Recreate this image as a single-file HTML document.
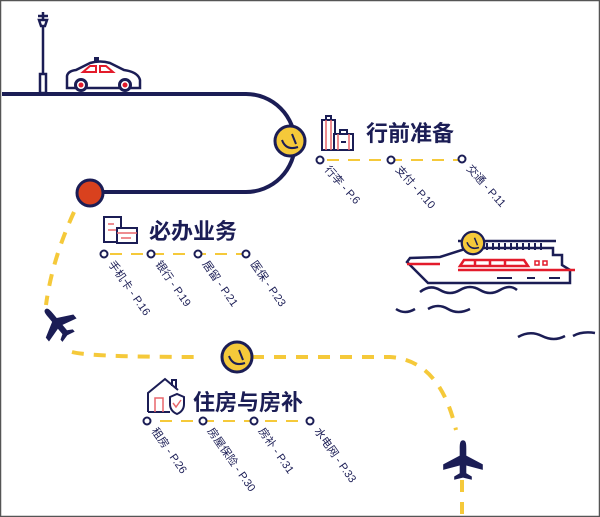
<!DOCTYPE html>
<html><head><meta charset="utf-8"><style>
html,body{margin:0;padding:0;background:#fff}
svg{display:block}
.t{font-family:"Liberation Sans","Noto Sans CJK SC",sans-serif;font-weight:bold;fill:#1b1d55;font-size:22px}
.l{font-family:"Liberation Sans","Noto Sans CJK SC",sans-serif;fill:#1b1d55;font-size:11px}
</style></head><body>
<svg width="600" height="517" viewBox="0 0 600 517" xmlns="http://www.w3.org/2000/svg">
<rect x="0.5" y="0.5" width="599" height="516" fill="#fff" stroke="#555" stroke-width="1.5"/>
<defs>
<g id="sm"><circle r="15" fill="#f5c93a" stroke="#1b1d55" stroke-width="3"/><path d="M-8,-1 Q-4,10 8,6" fill="none" stroke="#1b1d55" stroke-width="2"/><path d="M2,-7 L6,3" stroke="#1b1d55" stroke-width="2"/></g>
<path id="pl" d="M0,-18 C3,-18 3,-14 3,-10 L3,-4 L18,4 L18,9 L3,5 L3,12 L8,15 L8,18 L0,16 L-8,18 L-8,15 L-3,12 L-3,5 L-18,9 L-18,4 L-3,-4 L-3,-10 C-3,-14 -3,-18 0,-18Z" fill="#1b1d55"/>
</defs>
<!-- road -->
<path d="M2 94 H246 A49 49 0 0 1 246 192 H92" fill="none" stroke="#1b1d55" stroke-width="4"/>
<!-- lamp -->
<path d="M43 12 V20 M38 16 H48 M39 20 H47 L45 26 H41Z M43 26 V74" stroke="#1b1d55" stroke-width="2.5" fill="none"/>
<rect x="40" y="74" width="6" height="19" fill="none" stroke="#1b1d55" stroke-width="2.5"/>
<!-- car -->
<path d="M67 88 V76 Q68 71 76 70 L90 63 Q100 60 110 63 L124 70 Q138 72 140 80 V88 Z" fill="#fff" stroke="#1b1d55" stroke-width="2.5"/>
<rect x="94" y="57" width="5" height="5" fill="#1b1d55"/>
<path d="M83 72 L90 66 H96 V72Z M100 66 H106 L113 72 H100Z" fill="none" stroke="#e31b2b" stroke-width="2"/>
<circle cx="81" cy="85" r="5.5" fill="#fff" stroke="#1b1d55" stroke-width="3"/><circle cx="81" cy="85" r="2.5" fill="#e31b2b"/>
<circle cx="125" cy="85" r="5.5" fill="#fff" stroke="#1b1d55" stroke-width="3"/><circle cx="125" cy="85" r="2.5" fill="#e31b2b"/>
<use href="#sm" x="290" y="141"/>
<circle cx="90" cy="193" r="13" fill="#d9411e" stroke="#1b1d55" stroke-width="3"/>
<!-- yellow dashed travel path -->
<path d="M74 212 Q52 260 46 305 M72 352 Q90 357 200 357 M252 357 H390 Q440 360 456 430 M462 480 V515" fill="none" stroke="#f5c93a" stroke-width="4" stroke-dasharray="12 10"/>
<use href="#pl" transform="translate(57,323) rotate(-40)"/>
<use href="#pl" transform="translate(463,460) scale(1.1)"/>
<use href="#sm" x="237" y="357"/>
<!-- section 1 -->
<rect x="322" y="120" width="13" height="30" fill="none" stroke="#1b1d55" stroke-width="2"/>
<path d="M326 120 V150 M331 120 V150" stroke="#e8676b" stroke-width="1.5"/>
<path d="M326 120 V116 H331 V120" fill="none" stroke="#1b1d55" stroke-width="2"/>
<rect x="334" y="134" width="19" height="16" fill="#fff" stroke="#1b1d55" stroke-width="2"/>
<path d="M338 134 V150 M349 134 V150" stroke="#e8676b" stroke-width="1.5"/>
<path d="M340 134 V130 H347 V134 M341 142 H346" fill="none" stroke="#1b1d55" stroke-width="2"/>
<text class="t" x="366" y="141">行前准备</text>
<path d="M327 160 H458" stroke="#f5c93a" stroke-width="2" stroke-dasharray="12 9"/>
<g fill="#fff" stroke="#1b1d55" stroke-width="2"><circle cx="320" cy="160" r="3.5"/><circle cx="391" cy="160" r="3.5"/><circle cx="462" cy="159" r="3.5"/></g>
<text class="l" transform="translate(324,170) rotate(48)">行李 - P.6</text>
<text class="l" transform="translate(395,170) rotate(48)">支付 - P.10</text>
<text class="l" transform="translate(466,169) rotate(48)">交通 - P.11</text>
<!-- section 2 -->
<rect x="104" y="217" width="17" height="25" fill="#fff" stroke="#1b1d55" stroke-width="2"/>
<path d="M108 224 h6 M108 230 h8" stroke="#e8676b" stroke-width="1.5"/>
<rect x="117" y="228" width="20" height="15" fill="#fff" stroke="#1b1d55" stroke-width="2"/>
<path d="M117 233 H137 M121 238 h10" stroke="#e8676b" stroke-width="1.5"/>
<text class="t" x="149" y="239">必办业务</text>
<path d="M110 254 H242" stroke="#f5c93a" stroke-width="2" stroke-dasharray="12 9"/>
<g fill="#fff" stroke="#1b1d55" stroke-width="2"><circle cx="104" cy="254" r="3.5"/><circle cx="151" cy="254" r="3.5"/><circle cx="198" cy="254" r="3.5"/><circle cx="246" cy="254" r="3.5"/></g>
<text class="l" transform="translate(108,264) rotate(55)">手机卡 - P.16</text>
<text class="l" transform="translate(155,264) rotate(55)">银行 - P.19</text>
<text class="l" transform="translate(202,264) rotate(55)">居留 - P.21</text>
<text class="l" transform="translate(250,264) rotate(55)">医保 - P.23</text>
<!-- section 3 -->
<path d="M148 412 V393 L165 379 L178 390 M172 386 V380 H176 V389" fill="none" stroke="#1b1d55" stroke-width="2"/>
<path d="M148 412 H170" stroke="#1b1d55" stroke-width="2"/>
<path d="M155 412 V398 H163 V412" fill="none" stroke="#e8676b" stroke-width="1.5"/>
<path d="M170 397 L177 394 L184 397 V404 Q184 411 177 414 Q170 411 170 404Z" fill="#fff" stroke="#1b1d55" stroke-width="2"/>
<path d="M173 403 L176 407 L181 400" fill="none" stroke="#e8676b" stroke-width="1.5"/>
<text class="t" x="193" y="410">住房与房补</text>
<path d="M160 421 H305" stroke="#f5c93a" stroke-width="2" stroke-dasharray="12 9"/>
<g fill="#fff" stroke="#1b1d55" stroke-width="2"><circle cx="147" cy="421" r="3.5"/><circle cx="203" cy="421" r="3.5"/><circle cx="254" cy="421" r="3.5"/><circle cx="310" cy="421" r="3.5"/></g>
<text class="l" transform="translate(151,431) rotate(55)">租房 - P.26</text>
<text class="l" transform="translate(207,431) rotate(55)">房屋保险 - P.30</text>
<text class="l" transform="translate(258,431) rotate(55)">房补 - P.31</text>
<text class="l" transform="translate(314,431) rotate(55)">水电网 - P.33</text>
<!-- ship -->
<path d="M407 262 L428 283 H570 V270 L562 265 V255 H553 V248 H468 L440 257 L410 258 Z" fill="#fff" stroke="#1b1d55" stroke-width="2.5"/>
<path d="M458 241 H556" stroke="#1b1d55" stroke-width="2.5"/>
<path d="M487 243 v7 M493 243 v7 M499 243 v7 M505 243 v7 M511 243 v7 M517 243 v7 M523 243 v7 M529 243 v7 M535 243 v7 M541 243 v7" stroke="#1b1d55" stroke-width="2"/>
<path d="M407 264 H440 M458 270 H575" stroke="#e31b2b" stroke-width="2.5"/>
<path d="M460 266 L464 260 H524 L528 266 Z M475 260 V266 M490 260 V266 M505 260 V266" fill="none" stroke="#e31b2b" stroke-width="2.5"/>
<rect x="535" y="261" width="4" height="4" fill="none" stroke="#e31b2b" stroke-width="1.5"/>
<rect x="543" y="261" width="4" height="4" fill="none" stroke="#e31b2b" stroke-width="1.5"/>
<path d="M497 278 H512 M527 278 H535 M549 278 H560" stroke="#1b1d55" stroke-width="2"/>
<g transform="translate(473,243) scale(0.75)"><use href="#sm"/></g>
<path d="M420 292 Q430 284 440 290 T460 290 T480 290 T500 290 T517 290" fill="none" stroke="#1b1d55" stroke-width="2.5"/>
<path d="M396 309 Q405 315 415 309 M428 309 Q438 303 448 309 T470 309" fill="none" stroke="#1b1d55" stroke-width="2.5"/>
<path d="M518 337 Q530 330 542 336 T565 336 M573 336 Q582 331 595 333" fill="none" stroke="#1b1d55" stroke-width="2.5"/>
</svg>
</body></html>
